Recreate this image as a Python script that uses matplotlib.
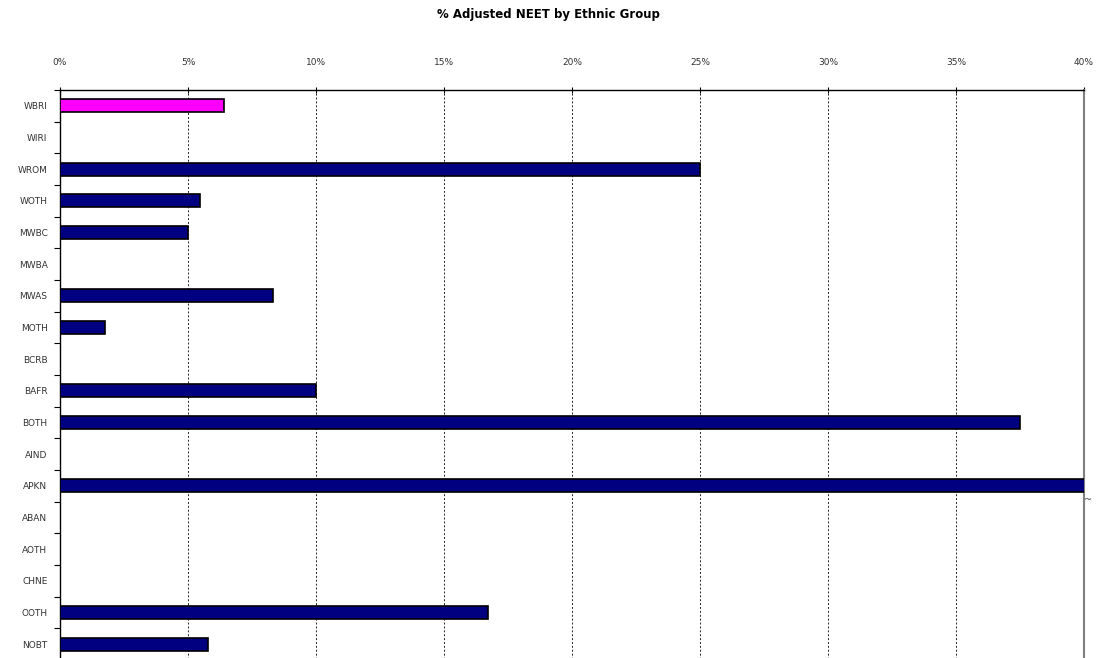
import matplotlib.pyplot as plt
import numpy as np

groups = ['WBRI', 'WIRI', 'WROM', 'WOTH', 'MWBC', 'MWBA', 'MWAS', 'MOTH', 'BCRB',
          'BAFR', 'BOTH', 'AIND', 'APKN', 'ABAN', 'AOTH', 'CHNE', 'OOTH', 'NOBT']
neet_pct = [6.4, 0, 25.0, 5.45, 5.0, 0, 8.33, 1.75, 0,
            10.0, 37.5, 0, 50.0, 0, 0, 0, 16.7, 5.8]
highlight = 'WBRI'
x_ticks = [0, 5, 10, 15, 20, 25, 30, 35, 40]

fig = plt.figure(figsize=(10.97, 6.58), dpi=100)
ax = fig.add_axes([60 / 1097, -2 / 658, 1024 / 1097, 570 / 658])

y = np.arange(len(groups))
colors = ['#ff00ff' if g == highlight else '#000080' for g in groups]
ax.barh(y, neet_pct, height=0.42, color=colors, edgecolor='black', linewidth=1.2, zorder=3)

ax.set_xlim(0, 40)
ax.set_ylim(len(groups) - 0.5, -0.5)

# x axis on top
ax.xaxis.tick_top()
ax.set_xticks(x_ticks)
ax.set_xticklabels([f'{v}%' for v in x_ticks], fontsize=6.5, color='#333333')
ax.tick_params(axis='x', direction='inout', length=5, width=0.8, pad=14)
ax.grid(axis='x', linestyle=(0, (2, 2)), color='#222222', linewidth=0.7, zorder=1)

# y axis: labels centred, ticks between categories
ax.set_yticks(y)
ax.set_yticklabels(groups, fontsize=6.5, color='#333333')
ax.set_yticks(np.arange(len(groups) + 1) - 0.5, minor=True)
ax.tick_params(axis='y', which='major', length=0, pad=9)
ax.tick_params(axis='y', which='minor', length=4, width=0.8, direction='out')

ax.spines['top'].set_linewidth(1.0)
ax.spines['left'].set_linewidth(1.0)
ax.spines['right'].set_color('#808080')
ax.spines['right'].set_linewidth(1.5)
ax.spines['bottom'].set_visible(False)

# small break mark where the APKN bar runs off the scale
ax.text(40.15, groups.index('APKN') + 0.45, '~', fontsize=7, color='#444444',
        ha='center', va='center', clip_on=False)

fig.suptitle('% Adjusted NEET by Ethnic Group', fontsize=8.5, fontweight='bold', y=0.988)

fig.savefig('out.png', dpi=100)
